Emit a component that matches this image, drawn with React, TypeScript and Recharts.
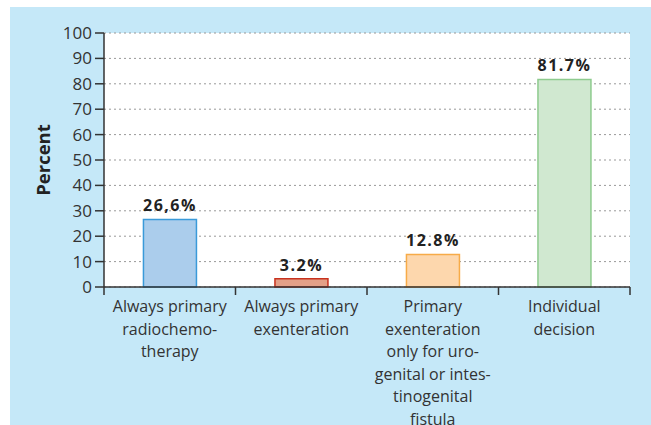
import { BarChart, Bar, XAxis, YAxis, CartesianGrid, Cell, LabelList, Label } from 'recharts'

const CATEGORIES = [
  'Always primary radiochemotherapy',
  'Always primary exenteration',
  'Primary exenteration only for urogenital or intestinogenital fistula',
  'Individual decision',
]
const CATEGORY_LINES = [
  ['Always primary', 'radiochemo-', 'therapy'],
  ['Always primary', 'exenteration'],
  ['Primary', 'exenteration', 'only for uro-', 'genital or intes-', 'tinogenital', 'fistula'],
  ['Individual', 'decision'],
]
const PERCENT = [26.6, 3.2, 12.8, 81.7]
const VALUE_LABELS = ['26,6%', '3.2%', '12.8%', '81.7%']
const Y_TICKS = [0, 10, 20, 30, 40, 50, 60, 70, 80, 90, 100]

const FILLS = ['#abcdec', '#e3a088', '#fdd7ad', '#d0e8d0']
const STROKES = ['#3a9ad9', '#c8321e', '#f7ab48', '#8ecb8e']

const data = CATEGORIES.map((name, i) => ({ name, value: PERCENT[i], label: VALUE_LABELS[i] }))

const FONT = '"Open Sans", "Noto Sans", sans-serif'

function CategoryTick(props: any) {
  const { x, y, payload, index, visibleTicksCount } = props
  const half = payload.offset ?? 0
  const lines = CATEGORY_LINES[CATEGORIES.indexOf(payload.value)] || []
  const isLast = index === visibleTicksCount - 1
  return (
    <g>
      <line x1={x - half} x2={x - half} y1={y} y2={y + 8} stroke="#333" strokeWidth={1.5} />
      {isLast && <line x1={x + half} x2={x + half} y1={y} y2={y + 8} stroke="#333" strokeWidth={1.5} />}
      <text x={x} y={y + 25} textAnchor="middle" fill="#333" fontSize={16} fontFamily={FONT}>
        {lines.map((l, i) => (
          <tspan key={i} x={x} dy={i === 0 ? 0 : 22.5}>{l}</tspan>
        ))}
      </text>
    </g>
  )
}

export default function App() {
  return (
    <div style={{ position: 'absolute', left: 0, top: 0, width: 651, height: 425, background: '#fff', overflow: 'hidden' }}>
      <div style={{ position: 'absolute', left: 10, top: 7, right: 0, bottom: 0, background: '#c5e8f8' }} />
      <div style={{ position: 'absolute', left: 0, top: 0 }}>
        <BarChart width={651} height={425} data={data} margin={{ top: 33, right: 21, left: 0, bottom: 0 }} barCategoryGap="30%">
          <CartesianGrid vertical={false} fill="#fff" stroke="#999" strokeDasharray="2 3" />
          <XAxis
            dataKey="name"
            height={138}
            tickLine={false}
            tickSize={0}
            tickMargin={0}
            axisLine={{ stroke: '#333', strokeWidth: 1.5 }}
            tick={<CategoryTick />}
            interval={0}
          />
          <YAxis
            width={104}
            domain={[0, 100]}
            ticks={Y_TICKS}
            interval={0}
            tickSize={9}
            tickMargin={3}
            axisLine={{ stroke: '#333', strokeWidth: 1.5 }}
            tickLine={{ stroke: '#333', strokeWidth: 1.5 }}
            tick={{ fill: '#333', fontSize: 17, fontFamily: FONT }}
          >
            <Label value="Percent" angle={-90} position="center" dx={-9} fill="#222" fontSize={18.5} fontWeight="bold" fontFamily={FONT} />
          </YAxis>
          <Bar dataKey="value" isAnimationActive={false} strokeWidth={1.5}>
            {data.map((d, i) => (
              <Cell key={d.name} fill={FILLS[i]} stroke={STROKES[i]} />
            ))}
            <LabelList dataKey="label" position="top" offset={8} fill="#222" fontSize={16} fontWeight="bold" fontFamily={FONT} letterSpacing={1.5} />
          </Bar>
        </BarChart>
      </div>
    </div>
  )
}
